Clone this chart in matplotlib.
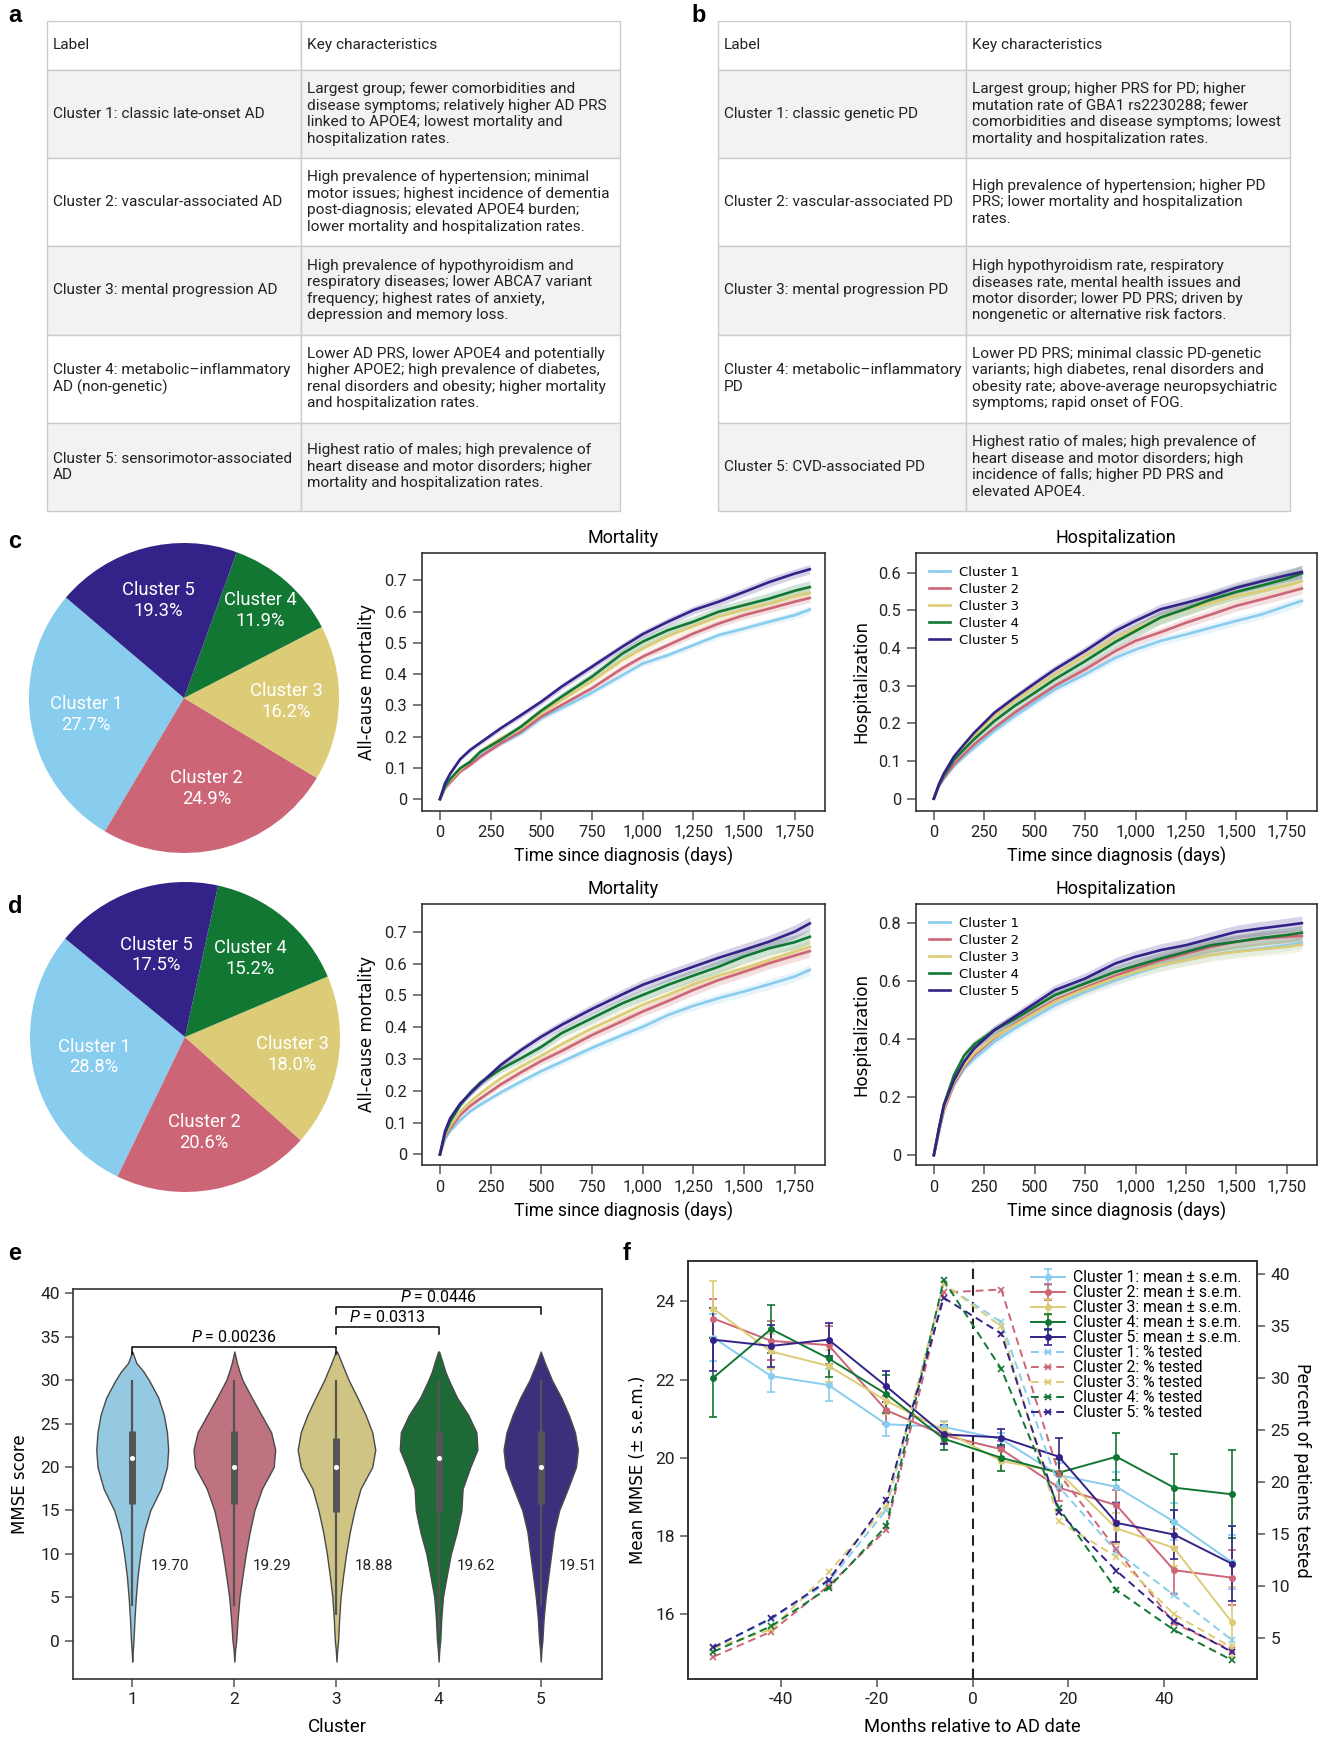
import colorsys
import numpy as np
import matplotlib
matplotlib.use('Agg')
import matplotlib.pyplot as plt
import matplotlib.colors as mcolors
from matplotlib.ticker import FuncFormatter

plt.rcParams['font.family'] = ['Roboto', 'DejaVu Sans']
plt.rcParams['axes.unicode_minus'] = False
plt.rcParams['mathtext.fontset'] = 'custom'
plt.rcParams['mathtext.rm'] = 'Roboto'
plt.rcParams['mathtext.it'] = 'Roboto:italic'

# ---------------- data ----------------
COLORS = ['#88CCEE', '#CC6677', '#DDCC77', '#117733', '#332288']
CLUSTERS = ['Cluster 1', 'Cluster 2', 'Cluster 3', 'Cluster 4', 'Cluster 5']

TABLE_HEADER = ['Label', 'Key characteristics']
AD_LABELS = ['Cluster 1: classic late-onset AD',
             'Cluster 2: vascular-associated AD',
             'Cluster 3: mental progression AD',
             'Cluster 4: metabolic\u2013inflammatory\nAD (non-genetic)',
             'Cluster 5: sensorimotor-associated\nAD']
AD_TRAITS = ['Largest group; fewer comorbidities and\ndisease symptoms; relatively higher AD PRS\nlinked to APOE4; lowest mortality and\nhospitalization rates.',
             'High prevalence of hypertension; minimal\nmotor issues; highest incidence of dementia\npost-diagnosis; elevated APOE4 burden;\nlower mortality and hospitalization rates.',
             'High prevalence of hypothyroidism and\nrespiratory diseases; lower ABCA7 variant\nfrequency; highest rates of anxiety,\ndepression and memory loss.',
             'Lower AD PRS, lower APOE4 and potentially\nhigher APOE2; high prevalence of diabetes,\nrenal disorders and obesity; higher mortality\nand hospitalization rates.',
             'Highest ratio of males; high prevalence of\nheart disease and motor disorders; higher\nmortality and hospitalization rates.']
PD_LABELS = ['Cluster 1: classic genetic PD',
             'Cluster 2: vascular-associated PD',
             'Cluster 3: mental progression PD',
             'Cluster 4: metabolic\u2013inflammatory\nPD',
             'Cluster 5: CVD-associated PD']
PD_TRAITS = ['Largest group; higher PRS for PD; higher\nmutation rate of GBA1 rs2230288; fewer\ncomorbidities and disease symptoms; lowest\nmortality and hospitalization rates.',
             'High prevalence of hypertension; higher PD\nPRS; lower mortality and hospitalization\nrates.',
             'High hypothyroidism rate, respiratory\ndiseases rate, mental health issues and\nmotor disorder; lower PD PRS; driven by\nnongenetic or alternative risk factors.',
             'Lower PD PRS; minimal classic PD-genetic\nvariants; high diabetes, renal disorders and\nobesity rate; above-average neuropsychiatric\nsymptoms; rapid onset of FOG.',
             'Highest ratio of males; high prevalence of\nheart disease and motor disorders; high\nincidence of falls; higher PD PRS and\nelevated APOE4.']

PIE_C = [27.7, 24.9, 16.2, 11.9, 19.3]
PIE_D = [28.8, 20.6, 18.0, 15.2, 17.5]

DAYS = [0, 25, 50, 100, 150, 200, 300, 400, 500, 600, 750, 900, 1000, 1125, 1250, 1375, 1500, 1625, 1750, 1825]

C_MORT = [
    [0, .035, .056, .092, .115, .142, .177, .211, .259, .291, .341, .397, .434, .461, .493, .525, .546, .568, .589, .607],
    [0, .035, .053, .088, .110, .136, .179, .216, .264, .301, .355, .419, .456, .493, .530, .562, .589, .610, .632, .644],
    [0, .038, .060, .094, .122, .153, .195, .227, .275, .317, .378, .445, .482, .522, .554, .584, .607, .626, .650, .660],
    [0, .040, .064, .099, .120, .152, .190, .232, .283, .328, .392, .466, .504, .541, .568, .600, .621, .642, .667, .679],
    [0, .051, .081, .128, .158, .181, .227, .269, .312, .360, .424, .488, .528, .568, .605, .632, .663, .695, .722, .736]]
C_HOSP = [
    [0, .032, .053, .087, .112, .135, .180, .219, .255, .290, .330, .374, .396, .419, .436, .454, .472, .489, .512, .525],
    [0, .034, .056, .091, .118, .144, .188, .228, .264, .299, .343, .392, .419, .442, .467, .489, .512, .529, .547, .558],
    [0, .037, .065, .109, .140, .168, .219, .259, .295, .330, .379, .427, .451, .481, .503, .520, .538, .551, .566, .577],
    [0, .036, .062, .103, .131, .158, .206, .246, .281, .317, .365, .416, .445, .481, .504, .529, .549, .566, .584, .598],
    [0, .038, .067, .112, .144, .175, .228, .268, .306, .343, .392, .445, .472, .503, .520, .538, .560, .577, .593, .602]]
D_MORT = [
    [0, .048, .073, .108, .136, .157, .195, .229, .262, .291, .335, .375, .401, .438, .467, .491, .512, .535, .559, .580],
    [0, .056, .082, .124, .153, .176, .220, .258, .294, .325, .375, .419, .449, .482, .517, .548, .574, .601, .625, .639],
    [0, .061, .090, .134, .166, .192, .239, .276, .310, .346, .396, .440, .470, .501, .535, .562, .585, .611, .637, .653],
    [0, .066, .103, .155, .195, .226, .268, .302, .338, .381, .428, .475, .501, .533, .562, .590, .622, .648, .667, .684],
    [0, .073, .113, .160, .192, .223, .281, .328, .370, .407, .457, .503, .533, .562, .590, .618, .643, .669, .700, .726]]
D_HOSP = [
    [0, .080, .159, .244, .299, .333, .391, .437, .477, .517, .563, .603, .626, .653, .672, .690, .703, .713, .724, .733],
    [0, .080, .155, .247, .305, .345, .405, .451, .494, .534, .577, .618, .644, .672, .695, .718, .736, .747, .753, .756],
    [0, .085, .163, .253, .310, .351, .408, .448, .489, .529, .572, .611, .632, .655, .672, .690, .701, .710, .718, .726],
    [0, .090, .175, .276, .343, .382, .431, .469, .511, .552, .592, .632, .653, .678, .701, .724, .736, .749, .759, .767],
    [0, .092, .172, .259, .322, .368, .431, .477, .523, .569, .609, .661, .684, .707, .724, .747, .770, .782, .793, .800]]

# half-widths of the shaded confidence bands
C_MORT_BAND = [
    [0, .003, .004, .005, .006, .006, .007, .007, .008, .008, .009, .009, .010, .010, .010, .011, .011, .011, .012, .012],
    [0, .003, .004, .005, .006, .007, .007, .008, .009, .009, .010, .011, .011, .012, .012, .012, .013, .013, .014, .014],
    [0, .004, .005, .006, .007, .008, .009, .010, .010, .011, .012, .013, .013, .014, .014, .015, .015, .016, .016, .016],
    [0, .004, .006, .007, .008, .009, .010, .011, .012, .013, .014, .015, .016, .016, .017, .018, .018, .019, .020, .020],
    [0, .003, .005, .006, .007, .008, .008, .009, .010, .010, .011, .012, .012, .013, .013, .014, .014, .015, .015, .015]]
C_HOSP_BAND = [
    [0, .003, .004, .005, .006, .007, .008, .008, .009, .009, .010, .010, .011, .011, .011, .012, .012, .012, .013, .013],
    [0, .003, .004, .005, .006, .007, .008, .009, .010, .010, .011, .011, .012, .012, .013, .013, .014, .014, .015, .015],
    [0, .004, .005, .006, .007, .008, .009, .010, .011, .012, .013, .013, .014, .015, .015, .016, .016, .017, .017, .018],
    [0, .004, .006, .007, .008, .009, .011, .012, .013, .014, .015, .016, .017, .018, .018, .019, .020, .020, .021, .022],
    [0, .003, .005, .006, .007, .008, .009, .010, .011, .011, .012, .013, .013, .014, .014, .015, .015, .016, .016, .017]]
D_MORT_BAND = [
    [0, .004, .005, .006, .007, .008, .009, .010, .011, .011, .012, .013, .013, .014, .014, .015, .015, .016, .016, .017],
    [0, .004, .006, .007, .008, .009, .010, .011, .012, .013, .014, .015, .015, .016, .017, .017, .018, .018, .019, .019],
    [0, .005, .006, .008, .009, .010, .011, .012, .013, .014, .015, .016, .016, .017, .018, .018, .019, .019, .020, .020],
    [0, .005, .007, .009, .010, .011, .012, .013, .014, .015, .016, .017, .018, .019, .019, .020, .021, .021, .022, .022],
    [0, .005, .006, .008, .009, .010, .011, .012, .013, .014, .015, .016, .017, .018, .018, .019, .020, .020, .021, .021]]
D_HOSP_BAND = [
    [0, .006, .008, .010, .011, .012, .013, .014, .015, .016, .016, .017, .017, .018, .018, .019, .019, .020, .020, .020],
    [0, .006, .009, .011, .012, .013, .014, .015, .016, .017, .018, .019, .019, .020, .020, .021, .021, .022, .022, .022],
    [0, .007, .010, .012, .013, .014, .015, .016, .017, .018, .019, .020, .020, .021, .021, .022, .022, .023, .023, .023],
    [0, .007, .010, .012, .014, .015, .016, .017, .018, .019, .020, .021, .022, .023, .023, .024, .024, .025, .025, .025],
    [0, .007, .010, .012, .013, .014, .015, .016, .017, .018, .019, .020, .021, .022, .022, .023, .023, .024, .024, .024]]

# violin outlines (half-width in category units) on a common MMSE grid
VIOLIN_Y = [-2.4, -1, 0, 2.5, 5, 7.5, 10, 12.5, 15, 17.5, 20, 22, 24, 26, 28, 30, 31, 32, 33.3]
VIOLIN_HW = [
    [0, .006, .012, .022, .035, .053, .080, .115, .176, .280, .340, .352, .340, .310, .255, .164, .110, .040, 0],
    [0, .008, .018, .032, .050, .080, .112, .150, .196, .270, .385, .400, .360, .265, .170, .080, .050, .025, 0],
    [0, .007, .016, .026, .040, .065, .094, .130, .176, .235, .350, .380, .350, .285, .205, .120, .085, .050, .005],
    [0, .007, .016, .026, .042, .080, .120, .178, .223, .235, .310, .380, .370, .290, .180, .100, .065, .040, .005],
    [0, .007, .016, .028, .048, .075, .103, .130, .180, .265, .345, .364, .335, .275, .200, .110, .075, .040, 0]]
VIOLIN_Q1 = [15.8, 15.8, 14.8, 14.8, 15.8]
VIOLIN_Q3 = [24.2, 24.2, 23.3, 24.2, 24.2]
VIOLIN_MED = [21, 20, 20, 21, 20]
WHISK_LO = [4, 4, 3, 1, 4]
WHISK_HI = [30, 30, 30, 30, 30]
MMSE_MEANS = [19.70, 19.29, 18.88, 19.62, 19.51]
BRACKETS = [(1, 3, 33.8, '0.00236'), (3, 4, 36.1, '0.0313'), (3, 5, 38.4, '0.0446')]

MONTHS = [-54, -42, -30, -18, -6, 6, 18, 30, 42, 54]
MMSE_MEAN = [
    [23.07, 22.09, 21.86, 20.86, 20.79, 20.48, 19.56, 19.26, 18.37, 17.34],
    [23.56, 22.99, 22.88, 21.22, 20.58, 20.22, 19.24, 18.79, 17.13, 16.94],
    [23.81, 22.72, 22.35, 21.46, 20.71, 19.92, 19.64, 18.20, 17.70, 15.81],
    [22.05, 23.29, 22.54, 21.63, 20.49, 20.00, 19.62, 20.03, 19.24, 19.07],
    [23.02, 22.86, 23.02, 21.83, 20.60, 20.52, 20.03, 18.34, 18.04, 17.30]]
MMSE_SEM = [
    [0.60, 0.41, 0.40, 0.30, 0.15, 0.15, 0.30, 0.38, 0.47, 0.70],
    [0.50, 0.50, 0.48, 0.35, 0.20, 0.20, 0.35, 0.40, 0.60, 0.70],
    [0.72, 0.45, 0.40, 0.35, 0.20, 0.25, 0.30, 0.40, 0.47, 0.90],
    [1.00, 0.62, 0.47, 0.48, 0.28, 0.33, 0.35, 0.60, 0.87, 1.12],
    [0.80, 0.53, 0.42, 0.40, 0.25, 0.23, 0.47, 0.50, 0.62, 0.95]]
PCT_TESTED = [
    [4.03, 6.76, 10.40, 17.30, 39.07, 35.40, 19.55, 13.30, 9.10, 4.80],
    [3.17, 5.58, 10.00, 15.40, 38.27, 38.55, 20.80, 13.50, 6.40, 3.80],
    [4.00, 5.80, 11.30, 17.60, 39.10, 35.00, 16.20, 12.80, 7.25, 4.07],
    [3.65, 6.10, 9.80, 15.75, 39.45, 30.90, 17.50, 9.60, 5.74, 2.85],
    [4.07, 6.86, 10.55, 18.26, 37.75, 34.30, 17.10, 11.45, 6.60, 3.65]]

# ---------------- figure ----------------
W, H = 1330, 1739
fig = plt.figure(figsize=(W / 100, H / 100), dpi=100)
DARK = '#333333'


def rect(l, t, r, b):
    return [l / W, 1 - b / H, (r - l) / W, (b - t) / H]


def letter(x, y, s):
    fig.text(x / W, 1 - y / H, s, fontsize=17, fontweight='bold',
             family='Liberation Sans', va='baseline', ha='left')


def style_axes(ax, ticklen=5.5, labelsize=12):
    for sp in ax.spines.values():
        sp.set_color(DARK)
        sp.set_linewidth(1.2)
    ax.tick_params(direction='out', length=ticklen, width=1.1, color='#555555',
                   labelsize=labelsize, pad=4, labelcolor='#222222')


# ---- a / b tables ----
def draw_table(r, col_frac, labels, traits):
    ax = fig.add_axes(r)
    ax.axis('off')
    cells = [TABLE_HEADER] + [[a, b] for a, b in zip(labels, traits)]
    fills = [['white', 'white']] + [['#f2f2f2'] * 2 if i % 2 == 0 else ['white'] * 2
                                    for i in range(len(labels))]
    tb = ax.table(cellText=cells, cellColours=fills, colWidths=[col_frac, 1 - col_frac],
                  cellLoc='left', bbox=[0, 0, 1, 1])
    tb.auto_set_font_size(False)
    for (i, j), cell in tb.get_celld().items():
        cell.set_height(44 if i == 0 else 79.6)
        cell.set_edgecolor('#cccccc')
        cell.set_linewidth(1.0)
        cell.PAD = 0.024 if j == 0 else 0.018
        t = cell.get_text()
        t.set_fontsize(11.1)
        t.set_linespacing(1.23)
        t.set_color('#222222')


draw_table(rect(47, 21, 620, 511), (301 - 47) / 573, AD_LABELS, AD_TRAITS)
draw_table(rect(718, 21, 1290, 511), (966 - 718) / 572, PD_LABELS, PD_TRAITS)
letter(8, 22, 'a')
letter(691, 22, 'b')


# ---- pies ----
def draw_pie(cx, cy, values, start, label_r):
    ax = fig.add_axes(rect(cx - 155, cy - 155, cx + 155, cy + 155))
    wedges, _ = ax.pie(values, colors=COLORS, startangle=start, counterclock=True,
                       radius=1, wedgeprops=dict(linewidth=0))
    ax.set_xlim(-1, 1)
    ax.set_ylim(-1, 1)
    ax.set_aspect('equal')
    for w, v, name, rr in zip(wedges, values, CLUSTERS, label_r):
        ang = np.deg2rad((w.theta1 + w.theta2) / 2)
        ax.text(rr * np.cos(ang), rr * np.sin(ang), f'{name}\n{v:.1f}%', color='white',
                ha='center', va='center', fontsize=13.2, linespacing=1.2)


draw_pie(184, 698, PIE_C, 139.6, [0.64, 0.6, 0.66, 0.75, 0.65])
draw_pie(185, 1037, PIE_D, 140.6, [0.6, 0.63, 0.7, 0.66, 0.56])
letter(8, 548, 'c')
letter(8, 913, 'd')

# ---- survival curves ----
tick_fmt_y = FuncFormatter(lambda v, p: '0' if abs(v) < 1e-9 else f'{v:g}')
tick_fmt_x = FuncFormatter(lambda v, p: f'{v:,.0f}')


def survival(r, title, ylabel, curves, bands, yticks, ylim, legend):
    ax = fig.add_axes(r)
    for k in range(5):
        y = np.array(curves[k])
        b = np.array(bands[k])
        ax.fill_between(DAYS, y - b, y + b, color=COLORS[k], alpha=0.2, lw=0)
    for k in range(5):
        ax.plot(DAYS, curves[k], color=COLORS[k], lw=1.9, label=CLUSTERS[k])
    ax.set_xlim(-90, 1900)
    ax.set_ylim(*ylim)
    ax.set_xticks(range(0, 1751, 250))
    ax.set_yticks(yticks)
    ax.xaxis.set_major_formatter(tick_fmt_x)
    ax.yaxis.set_major_formatter(tick_fmt_y)
    style_axes(ax, ticklen=6.5, labelsize=11.8)
    ax.set_title(title, fontsize=13, pad=7)
    ax.set_xlabel('Time since diagnosis (days)', fontsize=12.7, labelpad=5)
    ax.set_ylabel(ylabel, fontsize=12, family='DejaVu Sans', labelpad=6)
    if legend:
        ax.legend(loc='upper left', frameon=False, prop=dict(family='DejaVu Sans', size=9.5),
                  handlelength=1.6, handletextpad=0.7, labelspacing=0.3, borderaxespad=0.6)
    return ax


survival(rect(421.7, 552.7, 825, 810.7), 'Mortality', 'All-cause mortality', C_MORT, C_MORT_BAND,
         np.arange(0, 0.71, 0.1), (-0.037, 0.789), False)
survival(rect(915.7, 552.7, 1317, 810.7), 'Hospitalization', 'Hospitalization', C_HOSP, C_HOSP_BAND,
         np.arange(0, 0.61, 0.1), (-0.032, 0.653), True)
survival(rect(421.7, 903.7, 825, 1165.3), 'Mortality', 'All-cause mortality', D_MORT, D_MORT_BAND,
         np.arange(0, 0.71, 0.1), (-0.034, 0.788), False)
survival(rect(915.7, 903.7, 1317, 1165.3), 'Hospitalization', 'Hospitalization', D_HOSP, D_HOSP_BAND,
         np.arange(0, 0.81, 0.2), (-0.035, 0.867), True)


# ---- e violins ----
def desat(c, p=0.75):
    h, l, s = colorsys.rgb_to_hls(*mcolors.to_rgb(c))
    return colorsys.hls_to_rgb(h, l, s * p)


axe = fig.add_axes(rect(73, 1289, 602, 1679))
positions = [1, 2, 3, 4, 5]
stats = []
for k in range(5):
    hw = np.array(VIOLIN_HW[k])
    stats.append(dict(coords=np.array(VIOLIN_Y), vals=hw, mean=MMSE_MEANS[k],
                      median=VIOLIN_MED[k], min=VIOLIN_Y[0], max=VIOLIN_Y[-1]))
widths = [2 * max(h) for h in VIOLIN_HW]
parts = axe.violin(stats, positions=positions, widths=widths, showmeans=False,
                   showextrema=False, showmedians=False)
for body, c in zip(parts['bodies'], COLORS):
    body.set_facecolor(desat(c))
    body.set_edgecolor('#4a4a4a')
    body.set_linewidth(1.0)
    body.set_alpha(1)
axe.vlines(positions, WHISK_LO, WHISK_HI, color='#555555', lw=1.6, zorder=3)
axe.vlines(positions, VIOLIN_Q1, VIOLIN_Q3, color='#555555', lw=5, zorder=3)
axe.scatter(positions, VIOLIN_MED, s=7, color='white', zorder=4)
for p, m in zip(positions, MMSE_MEANS):
    axe.text(p + 0.18, 8.6, f'{m:.2f}', fontsize=11, va='center', ha='left', color='#222222')
for x1, x2, yb, pv in BRACKETS:
    axe.plot([x1, x1, x2, x2], [yb - 0.8, yb, yb, yb - 0.8], color='black', lw=1.1)
    axe.text((x1 + x2) / 2, yb + 0.25, f'$P$ = {pv}', ha='center', va='bottom', fontsize=11.5)
axe.set_xlim(0.42, 5.6)
axe.set_ylim(-4.4, 40.5)
axe.set_xticks(positions)
axe.set_yticks(range(0, 41, 5))
style_axes(axe, labelsize=12.5)
axe.set_xlabel('Cluster', fontsize=13.5, labelpad=8)
axe.set_ylabel('MMSE score', fontsize=12, family='DejaVu Sans', labelpad=8)
letter(8, 1260, 'e')

# ---- f MMSE trajectories ----
axf = fig.add_axes(rect(688, 1261, 1257, 1679))
axr = axf.twinx()
mean_handles = []
for k in range(5):
    h = axf.errorbar(MONTHS, MMSE_MEAN[k], yerr=MMSE_SEM[k], color=COLORS[k], marker='o', ms=4,
                     lw=1.4, capsize=3, elinewidth=1.2, capthick=1.2,
                     label=f'{CLUSTERS[k]}: mean \u00b1 s.e.m.')
    mean_handles.append(h)
pct_handles = []
for k in range(5):
    ln, = axr.plot(MONTHS, PCT_TESTED[k], color=COLORS[k], ls=(0, (4, 2.5)), lw=1.4, marker='x',
                   ms=4, mew=1.2, label=f'{CLUSTERS[k]}: % tested')
    pct_handles.append(ln)
axf.axvline(0, color='#222222', lw=1.5, ls=(0, (5, 3)))
axf.set_xlim(-59.3, 59.3)
axf.set_ylim(14.35, 25.03)
axr.set_ylim(1.02, 41.3)
axf.set_xticks([-40, -20, 0, 20, 40])
axf.set_yticks([16, 18, 20, 22, 24])
axr.set_yticks(range(5, 41, 5))
style_axes(axf, labelsize=12.5)
style_axes(axr, labelsize=12.5)
axf.set_xlabel('Months relative to AD date', fontsize=13.2, labelpad=8)
axf.set_ylabel('Mean MMSE (\u00b1 s.e.m.)', fontsize=12, family='DejaVu Sans', labelpad=6)
axr.set_ylabel('Percent of patients tested', fontsize=12, family='DejaVu Sans',
               rotation=270, labelpad=15)
axr.legend(mean_handles + pct_handles, [h.get_label() for h in mean_handles + pct_handles],
           loc='upper right', frameon=False, fontsize=11.3, handlelength=2.2, handletextpad=0.5,
           labelspacing=0.0, borderaxespad=0.2, bbox_to_anchor=(0.99, 1.0))
letter(623, 1260, 'f')

fig.savefig('out.png', dpi=100)
